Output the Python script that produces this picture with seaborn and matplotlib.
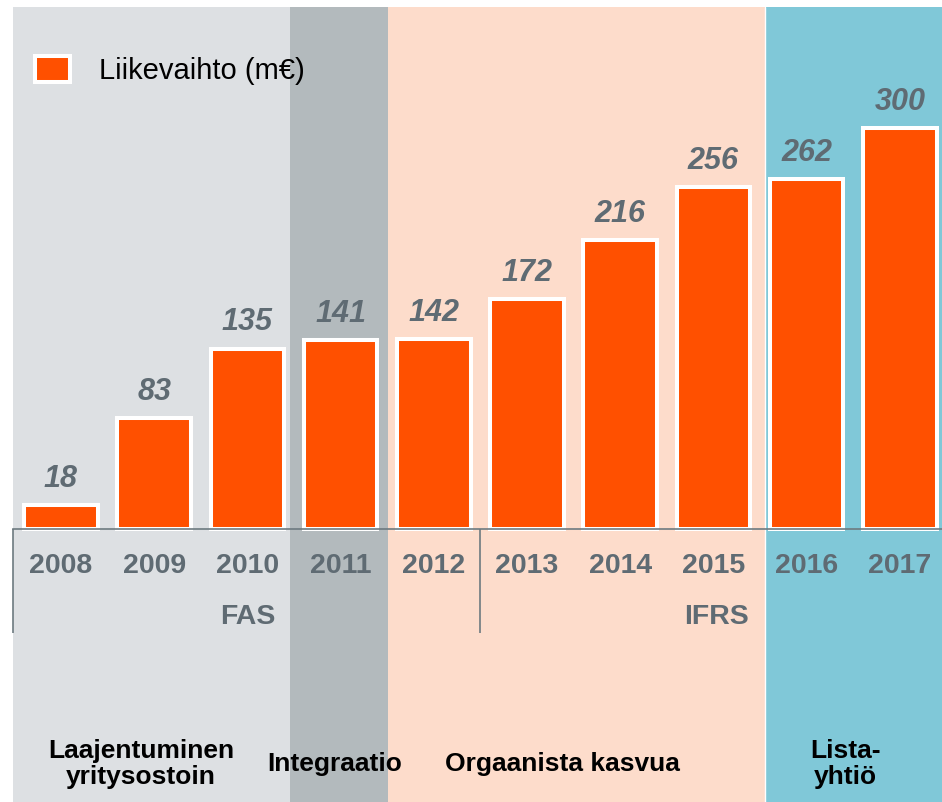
import matplotlib
matplotlib.use("Agg")
import matplotlib.pyplot as plt
import seaborn as sns

# data
years = ['2008', '2009', '2010', '2011', '2012', '2013', '2014', '2015', '2016', '2017']
revenue = [18, 83, 135, 141, 142, 172, 216, 256, 262, 300]
legend_label = 'Liikevaihto (m€)'
standards = ['FAS', 'IFRS']
phases = ['Laajentuminen\nyritysostoin', 'Integraatio', 'Orgaanista kasvua', 'Lista-\nyhtiö']

sns.set_style('white')
plt.rcParams['font.family'] = ['Liberation Sans', 'DejaVu Sans']

orange = '#FF5000'
grey_txt = '#5F6B73'
line_col = '#6D7A80'

fig = plt.figure(figsize=(9.42, 8.02), dpi=100)
ax = fig.add_axes([0, 0, 1, 1])

# pixel -> data helpers (bar pitch ~93.2 px, 1.337 px per m€)
x0, pitch = 61, 93.2
base, scale = 529, 1.337
def dx(px):
    return (px - x0) / pitch
def dy(py):
    return (base - py) / scale

# background phase bands
top_frac = 1 - 7 / 802
bands = [(13, 290, '#DDE0E3'), (290, 388, '#B3BABD'), (388, 765, '#FDDCCB'), (765, 942, '#80C8D8')]
for a, b, c in bands:
    ax.axvspan(dx(a), dx(b), ymin=0, ymax=top_frac, color=c, lw=0, zorder=0)
ax.axvline(dx(765), ymin=0, ymax=top_frac, color='white', lw=1, zorder=0.5)

sns.barplot(x=years, y=revenue, ax=ax, color=orange, saturation=1, width=0.79,
            edgecolor='white', linewidth=2.9, label=legend_label, zorder=2)

ax.bar_label(ax.containers[0], labels=[str(v) for v in revenue], padding=8,
             fontsize=22, fontweight='bold', fontstyle='italic', color=grey_txt)

ax.set_xlim(dx(0), dx(942))
ax.set_ylim(dy(802), dy(0))

# baseline axis and tick labels
for s in ['top', 'left', 'right']:
    ax.spines[s].set_visible(False)
ax.spines['bottom'].set_position(('data', 0))
ax.spines['bottom'].set_bounds(dx(13), dx(942))
ax.spines['bottom'].set_color(line_col)
ax.spines['bottom'].set_linewidth(1.2)
ax.spines['bottom'].set_zorder(3)
ax.set_yticks([])
ax.tick_params(axis='x', length=0, pad=17, labelsize=20.5, labelcolor=grey_txt)
for t in ax.get_xticklabels():
    t.set_fontweight('bold')
ax.set_xlabel('')

ax.vlines([dx(13), dx(480)], dy(633), 0, color=line_col, lw=1.2, zorder=3)

ax.text(2, dy(617), standards[0], ha='center', va='center', fontsize=20.5,
        fontweight='bold', color=grey_txt)
ax.text(7.03, dy(617), standards[1], ha='center', va='center', fontsize=20.5,
        fontweight='bold', color=grey_txt)

phase_x = [141, 335, 562, 845]
for px, txt in zip(phase_x, phases):
    ax.text(dx(px), dy(764), txt, ha='center', va='center', fontsize=19,
            fontweight='bold', color='black', linespacing=1.1)

ax.legend(loc='upper left', bbox_to_anchor=(35 / 942, 1 - 56 / 802),
          bbox_transform=fig.transFigure, frameon=False, fontsize=21,
          handlelength=1.2, handleheight=1.0, handletextpad=1.0,
          borderpad=0, borderaxespad=0, labelcolor='black')

fig.savefig('out.png', dpi=100, facecolor='white')
